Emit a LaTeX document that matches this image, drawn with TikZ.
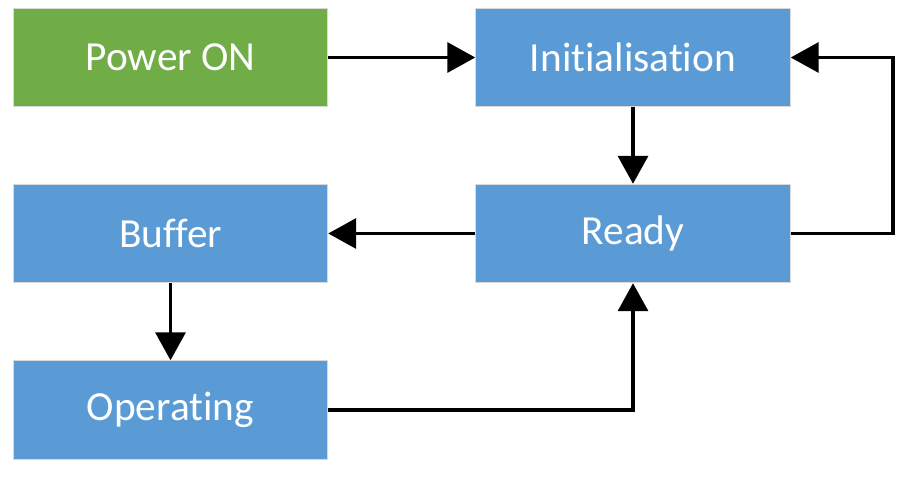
\documentclass[tikz,border=0pt]{standalone}
\usepackage{fontspec}
\setmainfont[Ligatures=NoCommon]{Carlito}
\usetikzlibrary{arrows.meta}
\definecolor{stategreen}{HTML}{70AD47}
\definecolor{stateblue}{HTML}{5B9BD5}
\tikzstyle{state}=[rectangle,fill=stateblue,draw=black!15,line width=0.6pt,
  minimum width=236pt,minimum height=74pt,inner sep=0pt,text=white,
  font=\fontsize{31}{37}\selectfont]
\tikzstyle{flow}=[line width=2.6pt,-{Triangle[length=21pt,width=22.5pt]}]

\begin{document}
\begin{tikzpicture}[x=0.75pt,y=-0.75pt]
    \useasboundingbox (0,0) rectangle (897,484);
    \node[state,fill=stategreen] (power) at (170.5,57.5) {Power ON};
    \node[state] (init) at (633,57.5) {Initialisation};
    \node[state] (buffer) at (170.5,233.5) {Buffer};
    \node[state] (ready) at (633,233.5) {Ready};
    \node[state] (operating) at (170.5,410) {Operating};
    \coordinate (loop) at (893,57.5);
    \draw[flow] (power) -- (init);
    \draw[flow] (init) -- (ready);
    \draw[flow] (ready) -- (buffer);
    \draw[flow] (buffer) -- (operating);
    \draw[flow] (operating.east) -| (ready.south);
    \draw[flow] (ready.east) -| (loop) -- (init.east);
  \end{tikzpicture}
\end{document}
